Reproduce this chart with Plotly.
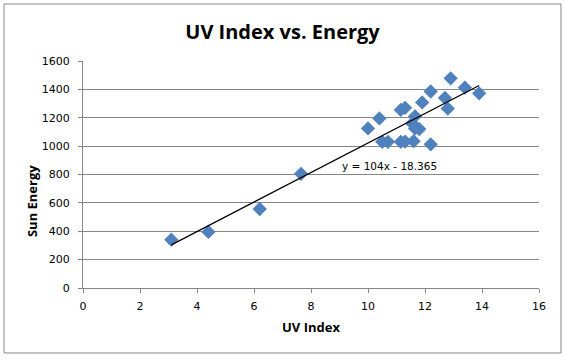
import plotly.graph_objects as go

uv_index = [3.1, 4.4, 6.2, 7.65, 10.0, 10.4, 10.5, 10.7, 11.15, 11.3, 11.6, 12.2,
            11.15, 11.3, 11.9, 12.2, 12.7, 12.8, 12.9, 13.4, 13.9,
            11.65, 11.55, 11.65, 11.8]
sun_energy = [340, 395, 557, 805, 1125, 1195, 1030, 1030, 1030, 1032, 1035, 1013,
              1255, 1270, 1308, 1385, 1340, 1265, 1478, 1413, 1372,
              1210, 1160, 1125, 1120]

slope = 104
intercept = -18.365
trend_label = "y = 104x - 18.365"
x_ticks = [0, 2, 4, 6, 8, 10, 12, 14, 16]
y_ticks = [0, 200, 400, 600, 800, 1000, 1200, 1400, 1600]

x_min, x_max = min(uv_index), max(uv_index)
trend_x = [x_min, x_max]
trend_y = [slope * v + intercept for v in trend_x]

fig = go.Figure()
fig.add_trace(go.Scatter(x=uv_index, y=sun_energy, mode="markers",
                         marker=dict(symbol="diamond", size=11, color="#4F81BD",
                                     line=dict(width=0)),
                         showlegend=False))
fig.add_trace(go.Scatter(x=trend_x, y=trend_y, mode="lines",
                         line=dict(color="black", width=1.3), showlegend=False))

fig.add_annotation(x=10.74, y=860, text=trend_label, showarrow=False,
                   xanchor="center", yanchor="middle",
                   font=dict(family="DejaVu Sans", size=10.5, color="black"))

# axis titles
fig.add_annotation(xref="paper", yref="paper", x=0.5, y=-0.172,
                   xanchor="center", yanchor="middle",
                   text="<b>UV Index</b>", showarrow=False,
                   font=dict(family="Open Sans", size=13, color="black"))
fig.add_annotation(xref="paper", yref="paper", x=-0.1118, y=0.383,
                   xanchor="center", yanchor="middle",
                   text="<b>Sun Energy</b>", showarrow=False, textangle=-90,
                   font=dict(family="Open Sans", size=13, color="black"))

fig.add_shape(type="rect", xref="paper", yref="paper",
              x0=-0.1732, x1=1.0482, y0=-0.2863, y1=1.2511,
              line=dict(color="#868686", width=1), layer="below")

fig.update_layout(
    width=565, height=362,
    margin=dict(l=83, r=26, t=61, b=74),
    paper_bgcolor="white", plot_bgcolor="white",
    title=dict(text="<b>UV Index vs. Energy</b>", x=0.5, xanchor="center",
               xref="container", y=0.912, yanchor="middle",
               font=dict(family="Open Sans", size=20, color="black")),
    font=dict(family="DejaVu Sans", size=11, color="black"),
    xaxis=dict(range=[0, 16], tickvals=x_ticks, showgrid=False, zeroline=False,
               showline=True, linecolor="#868686", linewidth=1,
               ticks="outside", ticklen=4, tickcolor="#868686",
               ticklabelstandoff=4),
    yaxis=dict(range=[0, 1600], tickvals=y_ticks, showgrid=True,
               gridcolor="#868686", gridwidth=1, zeroline=False,
               showline=True, linecolor="#868686", linewidth=1,
               ticks="outside", ticklen=4, tickcolor="#868686",
               ticklabelstandoff=6),
)

fig.write_html("out.html", config={"displayModeBar": False},
               post_script="document.body.style.margin='0';document.body.style.padding='0';")
